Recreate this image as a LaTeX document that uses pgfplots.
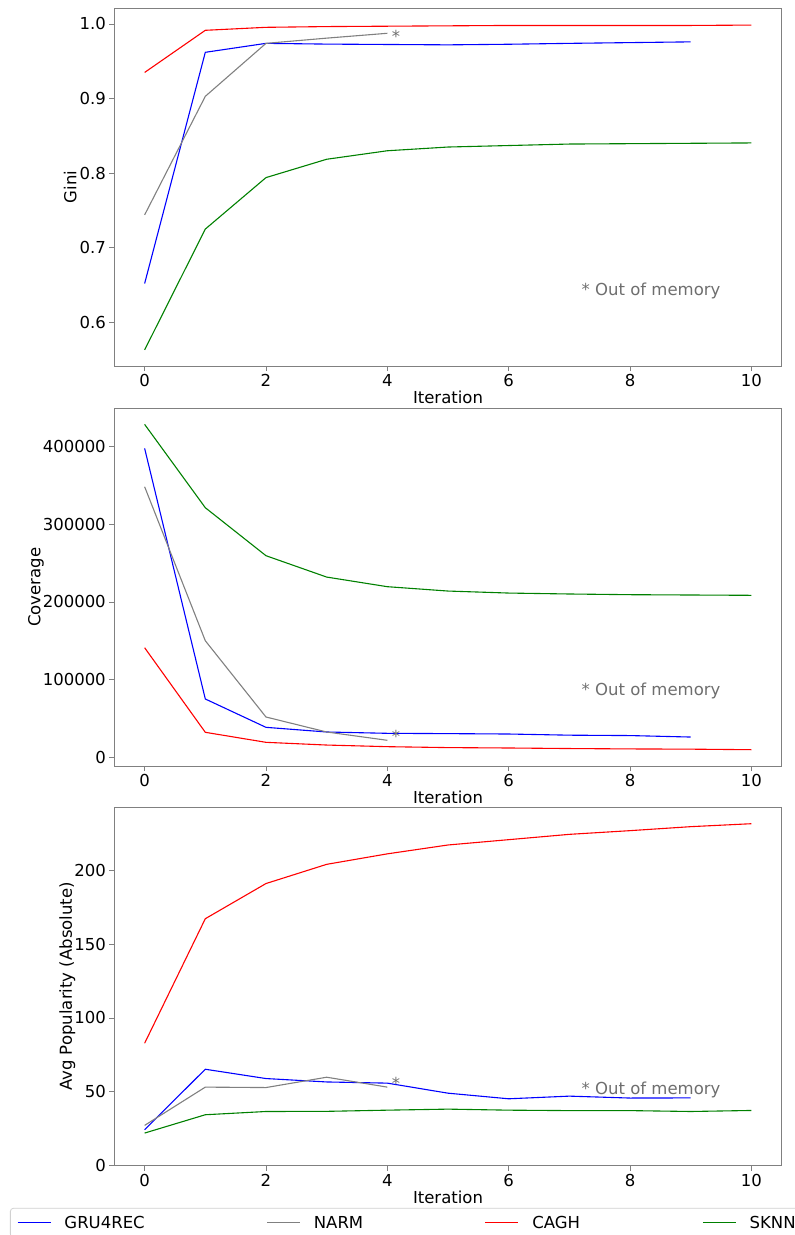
\documentclass[border=0pt]{standalone}
\usepackage{fontspec}
\setmainfont{DejaVu Sans}
\usepackage{pgfplots}
\pgfplotsset{compat=1.18}

\definecolor{framegray}{HTML}{808080}
\definecolor{oomgray}{HTML}{6E6E6E}
\definecolor{narmgray}{HTML}{808080}
\definecolor{sknngreen}{HTML}{008000}

\newcommand{\fs}{\fontsize{16.5}{19.8}\selectfont}

\pgfplotsset{
  iterplot/.style={
    scale only axis,
    width=667.4pt,
    xmin=-0.5, xmax=10.5,
    xtick={0,2,4,6,8,10},
    xlabel={Iteration},
    xlabel shift=-3pt,
    ylabel shift=-8pt,
    font=\fs,
    tick label style={font=\fs},
    label style={font=\fs},
    /pgf/number format/assume math mode=true,
    axis line style={draw=framegray, line width=0.9pt},
    tick style={draw=framegray, line width=0.9pt},
    tick align=outside,
    major tick length=5pt,
    tick pos=left,
    clip=false,
    every axis plot/.append style={line width=1.1pt, no marks},
  },
}

\begin{document}
\begin{tikzpicture}
\useasboundingbox (0pt,0pt) rectangle (795pt,-1235pt);

% --- Gini ---
\begin{axis}[iterplot,
  at={(114.3pt,-366pt)}, anchor=south west,
  height=357.7pt,
  ymin=0.5414, ymax=1.021,
  ytick={0.6,0.7,0.8,0.9,1.0},
  yticklabel style={/pgf/number format/.cd, fixed, fixed zerofill, precision=1},
  ylabel={Gini},
  ylabel shift=-4pt,
]
\addplot[blue] coordinates {(0,0.652) (1,0.962) (2,0.974) (3,0.973) (4,0.9725) (5,0.972) (6,0.9728) (7,0.974) (8,0.975) (9,0.976)};
\addplot[narmgray] coordinates {(0,0.744) (1,0.903) (2,0.974) (3,0.981) (4,0.9875)};
\addplot[red] coordinates {(0,0.935) (1,0.9915) (2,0.9955) (3,0.9965) (4,0.997) (5,0.9975) (6,0.998) (7,0.998) (8,0.998) (9,0.998) (10,0.9985)};
\addplot[sknngreen] coordinates {(0,0.563) (1,0.725) (2,0.794) (3,0.8186) (4,0.830) (5,0.835) (6,0.837) (7,0.839) (8,0.8395) (9,0.840) (10,0.8405)};
\node[anchor=base west, text=oomgray, inner sep=0pt] at (axis cs:4.07,0.9745) {*};
\node[anchor=base west, text=oomgray, inner sep=0pt] at (rel axis cs:0.70,0.198) {* Out of memory};
\end{axis}

% --- Coverage ---
\begin{axis}[iterplot,
  at={(114.3pt,-766pt)}, anchor=south west,
  height=357.7pt,
  ymin=-11200, ymax=449400,
  ytick={0,100000,200000,300000,400000},
  scaled y ticks=false,
  yticklabel style={/pgf/number format/.cd, fixed, 1000 sep={}},
  ylabel={Coverage},
]
\addplot[blue] coordinates {(0,397800) (1,75100) (2,38600) (3,32600) (4,30900) (5,30500) (6,30000) (7,28500) (8,28000) (9,26100)};
\addplot[narmgray] coordinates {(0,348400) (1,150100) (2,51900) (3,32600) (4,21900)};
\addplot[red] coordinates {(0,141100) (1,32200) (2,19300) (3,15800) (4,13700) (5,12500) (6,12000) (7,11300) (8,10800) (9,10500) (10,9800)};
\addplot[sknngreen] coordinates {(0,428700) (1,321400) (2,259600) (3,232100) (4,219700) (5,214100) (6,211500) (7,210300) (8,209400) (9,209000) (10,208600)};
\node[anchor=base west, text=oomgray, inner sep=0pt] at (axis cs:4.07,19700) {*};
\node[anchor=base west, text=oomgray, inner sep=0pt] at (rel axis cs:0.70,0.198) {* Out of memory};
\end{axis}

% --- Avg Popularity ---
\begin{axis}[iterplot,
  at={(114.3pt,-1165.7pt)}, anchor=south west,
  height=358.4pt,
  ymin=0, ymax=242.6,
  ytick={0,50,100,150,200},
  ylabel={Avg Popularity (Absolute)},
  legend columns=4,
  legend image code/.code={\draw[#1] (0pt,0pt) -- (33pt,0pt);},
  legend style={
    at={(-0.1563,-0.1590)}, anchor=west,
    draw=black!18, line width=0.8pt, rounded corners=3pt,
    inner xsep=6.7pt, inner ysep=6.4pt,
    font=\fs,
    nodes={inner sep=0pt, text height=14pt, text depth=2pt},
    /tikz/every odd column/.append style={column sep=13.3pt},
    /tikz/every even column/.append style={column sep=13pt},
  },
]
\addplot[blue] coordinates {(0,24.4) (1,65.3) (2,59.0) (3,56.7) (4,55.9) (5,49.1) (6,45.3) (7,47.1) (8,45.8) (9,45.9)};
\addlegendentry{\makebox[189pt][l]{GRU4REC}}
\addplot[narmgray] coordinates {(0,27.3) (1,53.2) (2,52.9) (3,59.9) (4,53.2)};
\addlegendentry{\makebox[158pt][l]{NARM}}
\addplot[red] coordinates {(0,82.9) (1,167.2) (2,191.0) (3,204.0) (4,211.1) (5,217.1) (6,220.7) (7,224.3) (8,226.8) (9,229.5) (10,231.5)};
\addlegendentry{\makebox[157pt][l]{CAGH}}
\addplot[sknngreen] coordinates {(0,22.1) (1,34.5) (2,36.7) (3,36.8) (4,37.6) (5,38.3) (6,37.6) (7,37.3) (8,37.3) (9,36.7) (10,37.4)};
\addlegendentry{\makebox[60pt][l]{SKNN}}
\node[anchor=base west, text=oomgray, inner sep=0pt] at (axis cs:4.07,51.6) {*};
\node[anchor=base west, text=oomgray, inner sep=0pt] at (rel axis cs:0.70,0.198) {* Out of memory};
\end{axis}
\end{tikzpicture}
\end{document}
